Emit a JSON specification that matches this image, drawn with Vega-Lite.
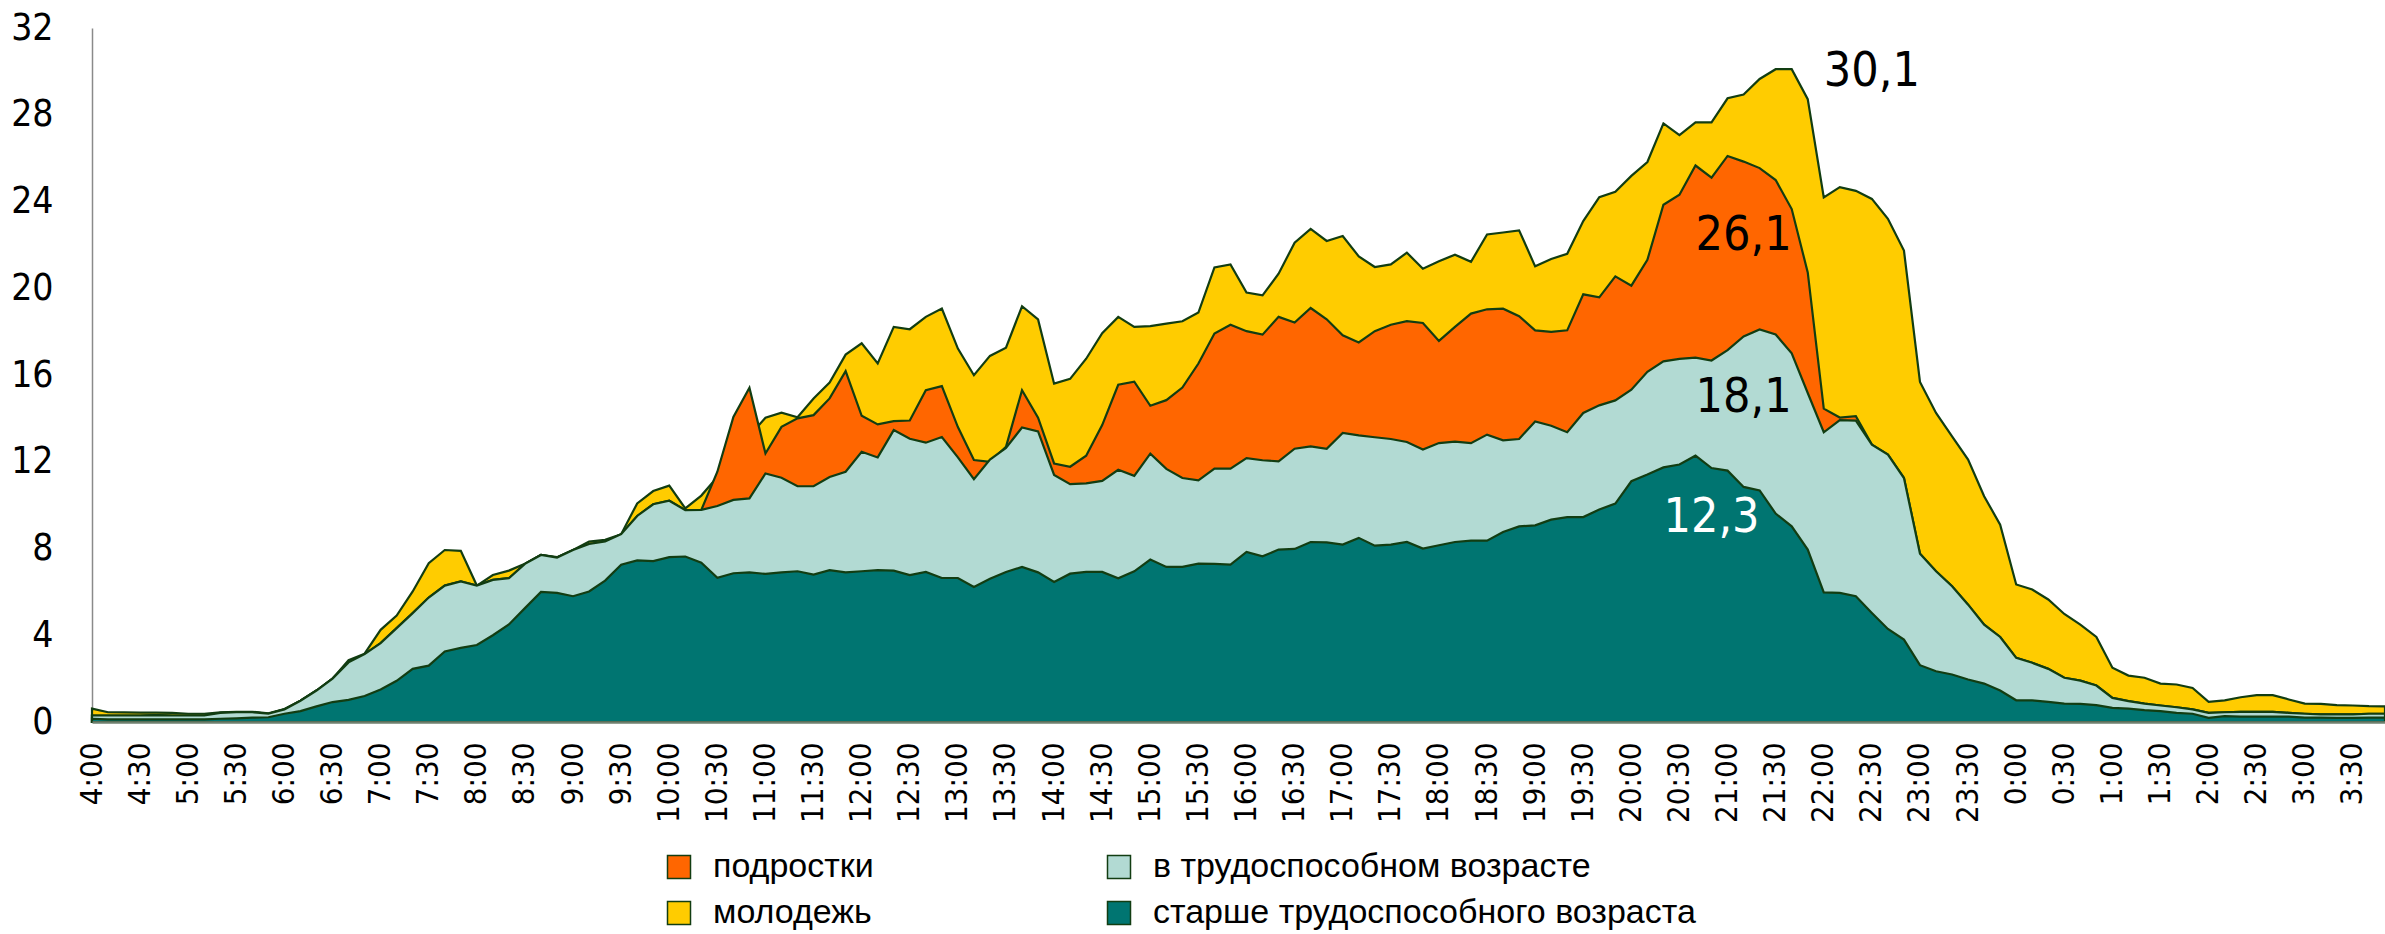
{
"$schema": "https://vega.github.io/schema/vega-lite/v6.json",
"width": 2293, "height": 694,
"autosize": {"type": "none"},
"padding": {"left": 92, "top": 28, "right": 0, "bottom": 212},
"background": "white",
"config": {"view": {"stroke": null}},
"data": {"values": [
{"t":"4:00","y":0.62,"o":0.3,"l":0.3,"d":0.15},
{"t":"4:10","y":0.45,"o":0.3,"l":0.3,"d":0.12},
{"t":"4:20","y":0.44,"o":0.3,"l":0.3,"d":0.12},
{"t":"4:30","y":0.43,"o":0.3,"l":0.3,"d":0.12},
{"t":"4:40","y":0.43,"o":0.32,"l":0.32,"d":0.12},
{"t":"4:50","y":0.42,"o":0.3,"l":0.3,"d":0.12},
{"t":"5:00","y":0.38,"o":0.3,"l":0.3,"d":0.12},
{"t":"5:10","y":0.38,"o":0.3,"l":0.3,"d":0.12},
{"t":"5:20","y":0.45,"o":0.42,"l":0.42,"d":0.15},
{"t":"5:30","y":0.47,"o":0.45,"l":0.45,"d":0.17},
{"t":"5:40","y":0.47,"o":0.45,"l":0.45,"d":0.2},
{"t":"5:50","y":0.4,"o":0.38,"l":0.38,"d":0.22},
{"t":"6:00","y":0.6,"o":0.58,"l":0.58,"d":0.38},
{"t":"6:10","y":0.98,"o":0.98,"l":0.98,"d":0.5},
{"t":"6:20","y":1.45,"o":1.45,"l":1.45,"d":0.72},
{"t":"6:30","y":2.0,"o":2.0,"l":2.0,"d":0.92},
{"t":"6:40","y":2.85,"o":2.75,"l":2.75,"d":1.02},
{"t":"6:50","y":3.15,"o":3.13,"l":3.13,"d":1.2},
{"t":"7:00","y":4.25,"o":3.64,"l":3.64,"d":1.5},
{"t":"7:10","y":4.91,"o":4.33,"l":4.33,"d":1.9},
{"t":"7:20","y":6.02,"o":5.02,"l":5.02,"d":2.45},
{"t":"7:30","y":7.32,"o":5.74,"l":5.74,"d":2.6},
{"t":"7:40","y":7.93,"o":6.29,"l":6.29,"d":3.25},
{"t":"7:50","y":7.89,"o":6.48,"l":6.48,"d":3.42},
{"t":"8:00","y":6.29,"o":6.29,"l":6.29,"d":3.55},
{"t":"8:10","y":6.78,"o":6.55,"l":6.55,"d":4.0},
{"t":"8:20","y":6.98,"o":6.63,"l":6.63,"d":4.5},
{"t":"8:30","y":7.3,"o":7.29,"l":7.29,"d":5.25},
{"t":"8:40","y":7.7,"o":7.7,"l":7.7,"d":6.0},
{"t":"8:50","y":7.6,"o":7.58,"l":7.58,"d":5.95},
{"t":"9:00","y":7.93,"o":7.93,"l":7.93,"d":5.8},
{"t":"9:10","y":8.32,"o":8.21,"l":8.21,"d":6.02},
{"t":"9:20","y":8.4,"o":8.32,"l":8.32,"d":6.52},
{"t":"9:30","y":8.66,"o":8.66,"l":8.66,"d":7.25},
{"t":"9:40","y":10.08,"o":9.5,"l":9.5,"d":7.45},
{"t":"9:50","y":10.65,"o":10.04,"l":10.04,"d":7.42},
{"t":"10:00","y":10.9,"o":10.2,"l":10.2,"d":7.6},
{"t":"10:10","y":9.85,"o":9.77,"l":9.77,"d":7.63},
{"t":"10:20","y":10.44,"o":9.78,"l":9.78,"d":7.35},
{"t":"10:30","y":11.3,"o":11.54,"l":9.96,"d":6.65},
{"t":"10:40","y":12.5,"o":14.07,"l":10.24,"d":6.86},
{"t":"10:50","y":13.2,"o":15.41,"l":10.31,"d":6.9},
{"t":"11:00","y":14.03,"o":12.38,"l":11.46,"d":6.83},
{"t":"11:10","y":14.26,"o":13.61,"l":11.26,"d":6.9},
{"t":"11:20","y":14.05,"o":14.0,"l":10.87,"d":6.95},
{"t":"11:30","y":14.92,"o":14.15,"l":10.87,"d":6.8},
{"t":"11:40","y":15.65,"o":14.92,"l":11.3,"d":7.0},
{"t":"11:50","y":16.94,"o":16.18,"l":11.54,"d":6.9},
{"t":"12:00","y":17.46,"o":14.12,"l":12.46,"d":6.95},
{"t":"12:10","y":16.53,"o":13.72,"l":12.2,"d":7.0},
{"t":"12:20","y":18.22,"o":13.87,"l":13.46,"d":6.98},
{"t":"12:30","y":18.11,"o":13.9,"l":13.06,"d":6.77},
{"t":"12:40","y":18.68,"o":15.3,"l":12.88,"d":6.92},
{"t":"12:50","y":19.06,"o":15.49,"l":13.14,"d":6.64},
{"t":"13:00","y":17.22,"o":13.6,"l":12.2,"d":6.64},
{"t":"13:10","y":15.99,"o":12.08,"l":11.2,"d":6.23},
{"t":"13:20","y":16.88,"o":12.0,"l":12.1,"d":6.6},
{"t":"13:30","y":17.26,"o":12.69,"l":12.64,"d":6.92},
{"t":"13:40","y":19.17,"o":15.3,"l":13.58,"d":7.15},
{"t":"13:50","y":18.56,"o":14.03,"l":13.4,"d":6.9},
{"t":"14:00","y":15.6,"o":11.92,"l":11.39,"d":6.46},
{"t":"14:10","y":15.82,"o":11.77,"l":10.97,"d":6.84},
{"t":"14:20","y":16.75,"o":12.28,"l":11.0,"d":6.92},
{"t":"14:30","y":17.93,"o":13.69,"l":11.12,"d":6.92},
{"t":"14:40","y":18.68,"o":15.55,"l":11.63,"d":6.63},
{"t":"14:50","y":18.22,"o":15.69,"l":11.35,"d":6.95},
{"t":"15:00","y":18.25,"o":14.58,"l":12.37,"d":7.49},
{"t":"15:10","y":18.37,"o":14.84,"l":11.67,"d":7.15},
{"t":"15:20","y":18.48,"o":15.42,"l":11.25,"d":7.15},
{"t":"15:30","y":18.88,"o":16.53,"l":11.14,"d":7.3},
{"t":"15:40","y":20.96,"o":17.91,"l":11.68,"d":7.29},
{"t":"15:50","y":21.1,"o":18.32,"l":11.68,"d":7.26},
{"t":"16:00","y":19.8,"o":18.02,"l":12.17,"d":7.84},
{"t":"16:10","y":19.67,"o":17.86,"l":12.07,"d":7.64},
{"t":"16:20","y":20.67,"o":18.68,"l":12.02,"d":7.95},
{"t":"16:30","y":22.1,"o":18.42,"l":12.6,"d":7.98},
{"t":"16:40","y":22.74,"o":19.09,"l":12.71,"d":8.3},
{"t":"16:50","y":22.18,"o":18.57,"l":12.6,"d":8.28},
{"t":"17:00","y":22.41,"o":17.83,"l":13.33,"d":8.18},
{"t":"17:10","y":21.47,"o":17.5,"l":13.22,"d":8.49},
{"t":"17:20","y":20.98,"o":18.02,"l":13.13,"d":8.13},
{"t":"17:30","y":21.1,"o":18.32,"l":13.05,"d":8.18},
{"t":"17:40","y":21.64,"o":18.48,"l":12.91,"d":8.3},
{"t":"17:50","y":20.9,"o":18.4,"l":12.56,"d":8.0},
{"t":"18:00","y":21.24,"o":17.57,"l":12.86,"d":8.15},
{"t":"18:10","y":21.55,"o":18.22,"l":12.93,"d":8.3},
{"t":"18:20","y":21.22,"o":18.83,"l":12.86,"d":8.36},
{"t":"18:30","y":22.48,"o":19.03,"l":13.25,"d":8.36},
{"t":"18:40","y":22.57,"o":19.06,"l":12.99,"d":8.76},
{"t":"18:50","y":22.67,"o":18.71,"l":13.05,"d":9.02},
{"t":"19:00","y":21.01,"o":18.06,"l":13.86,"d":9.07},
{"t":"19:10","y":21.35,"o":17.99,"l":13.66,"d":9.33},
{"t":"19:20","y":21.59,"o":18.06,"l":13.36,"d":9.45},
{"t":"19:30","y":23.1,"o":19.72,"l":14.25,"d":9.45},
{"t":"19:40","y":24.2,"o":19.58,"l":14.6,"d":9.8},
{"t":"19:50","y":24.45,"o":20.55,"l":14.83,"d":10.07},
{"t":"20:00","y":25.18,"o":20.12,"l":15.32,"d":11.1},
{"t":"20:10","y":25.82,"o":21.31,"l":16.15,"d":11.41},
{"t":"20:20","y":27.6,"o":23.85,"l":16.63,"d":11.74},
{"t":"20:30","y":27.06,"o":24.31,"l":16.74,"d":11.87},
{"t":"20:40","y":27.65,"o":25.66,"l":16.8,"d":12.28},
{"t":"20:50","y":27.65,"o":25.1,"l":16.67,"d":11.71},
{"t":"21:00","y":28.76,"o":26.1,"l":17.15,"d":11.59},
{"t":"21:10","y":28.93,"o":25.84,"l":17.78,"d":10.84},
{"t":"21:20","y":29.65,"o":25.54,"l":18.1,"d":10.68},
{"t":"21:30","y":30.1,"o":24.99,"l":17.87,"d":9.61},
{"t":"21:40","y":30.1,"o":23.65,"l":17.0,"d":9.02},
{"t":"21:50","y":28.72,"o":20.73,"l":15.17,"d":7.95},
{"t":"22:00","y":24.19,"o":14.45,"l":13.36,"d":5.98},
{"t":"22:10","y":24.66,"o":14.04,"l":13.92,"d":5.95},
{"t":"22:20","y":24.49,"o":14.1,"l":13.9,"d":5.8},
{"t":"22:30","y":24.12,"o":12.79,"l":12.79,"d":5.03},
{"t":"22:40","y":23.2,"o":12.33,"l":12.33,"d":4.29},
{"t":"22:50","y":21.74,"o":11.25,"l":11.25,"d":3.8},
{"t":"23:00","y":15.68,"o":7.76,"l":7.76,"d":2.62},
{"t":"23:10","y":14.25,"o":6.95,"l":6.95,"d":2.34},
{"t":"23:20","y":13.17,"o":6.26,"l":6.26,"d":2.19},
{"t":"23:30","y":12.1,"o":5.41,"l":5.41,"d":1.96},
{"t":"23:40","y":10.41,"o":4.49,"l":4.49,"d":1.77},
{"t":"23:50","y":9.1,"o":3.92,"l":3.92,"d":1.45},
{"t":"0:00","y":6.34,"o":2.96,"l":2.96,"d":1.0},
{"t":"0:10","y":6.11,"o":2.73,"l":2.73,"d":1.0},
{"t":"0:20","y":5.65,"o":2.45,"l":2.45,"d":0.93},
{"t":"0:30","y":4.98,"o":2.04,"l":2.04,"d":0.85},
{"t":"0:40","y":4.49,"o":1.91,"l":1.91,"d":0.84},
{"t":"0:50","y":3.92,"o":1.68,"l":1.68,"d":0.78},
{"t":"1:00","y":2.5,"o":1.11,"l":1.11,"d":0.65},
{"t":"1:10","y":2.14,"o":0.96,"l":0.96,"d":0.62},
{"t":"1:20","y":2.04,"o":0.85,"l":0.85,"d":0.55},
{"t":"1:30","y":1.77,"o":0.76,"l":0.76,"d":0.5},
{"t":"1:40","y":1.73,"o":0.68,"l":0.68,"d":0.42},
{"t":"1:50","y":1.57,"o":0.58,"l":0.58,"d":0.38},
{"t":"2:00","y":0.93,"o":0.42,"l":0.42,"d":0.19},
{"t":"2:10","y":1.0,"o":0.45,"l":0.45,"d":0.27},
{"t":"2:20","y":1.14,"o":0.47,"l":0.47,"d":0.25},
{"t":"2:30","y":1.24,"o":0.47,"l":0.47,"d":0.25},
{"t":"2:40","y":1.24,"o":0.47,"l":0.47,"d":0.25},
{"t":"2:50","y":1.04,"o":0.42,"l":0.42,"d":0.25},
{"t":"3:00","y":0.85,"o":0.38,"l":0.38,"d":0.2},
{"t":"3:10","y":0.84,"o":0.35,"l":0.35,"d":0.2},
{"t":"3:20","y":0.78,"o":0.35,"l":0.35,"d":0.19},
{"t":"3:30","y":0.76,"o":0.35,"l":0.35,"d":0.19},
{"t":"3:40","y":0.73,"o":0.38,"l":0.38,"d":0.2},
{"t":"3:50","y":0.72,"o":0.38,"l":0.38,"d":0.2}
]},
"encoding": {
  "x": {"field": "t", "type": "ordinal", "sort": null,
    "scale": {"type": "point", "padding": 0},
    "axis": {"title": null,
      "values": ["4:00","4:30","5:00","5:30","6:00","6:30","7:00","7:30","8:00","8:30","9:00","9:30","10:00","10:30","11:00","11:30","12:00","12:30","13:00","13:30","14:00","14:30","15:00","15:30","16:00","16:30","17:00","17:30","18:00","18:30","19:00","19:30","20:00","20:30","21:00","21:30","22:00","22:30","23:00","23:30","0:00","0:30","1:00","1:30","2:00","2:30","3:00","3:30"],
      "labelAngle": -90, "labelAlign": "right", "labelBaseline": "middle",
      "labelFont": "DejaVu Sans Condensed, Liberation Sans, sans-serif", "labelFontSize": 31, "labelColor": "#000000",
      "ticks": false, "tickSize": 0, "labelPadding": 20, "labelOverlap": false,
      "domainColor": "#6f806f", "domainWidth": 2.5, "grid": false, "zindex": 1}}
},
"layer": [
  {"mark": {"type": "area", "stroke": "#123d12", "strokeWidth": 2.2},
   "encoding": {
     "y": {"field": "y", "type": "quantitative",
       "scale": {"domain": [0, 32], "nice": false, "zero": true},
       "axis": {"title": null, "values": [0,4,8,12,16,20,24,28,32],
         "labelFont": "DejaVu Sans Condensed, Liberation Sans, sans-serif", "labelFontSize": 37, "labelColor": "#000000",
         "ticks": false, "tickSize": 0, "labelPadding": 39,
         "domainColor": "#8a8a8a", "domainWidth": 1.5, "grid": false}},
     "color": {"datum": "молодежь", "type": "nominal",
       "scale": {"domain": ["подростки", "молодежь", "в трудоспособном возрасте", "старше трудоспособного возраста"],
                 "range": ["#FF6600", "#FFCC00", "#B2DAD3", "#007571"]},
       "legend": {"title": null, "orient": "none", "legendX": 570, "legendY": 822,
         "columns": 2, "columnPadding": 228, "rowPadding": 12,
         "symbolType": "square", "symbolSize": 529, "symbolStrokeColor": "#355f35", "symbolStrokeWidth": 1.5,
         "labelFont": "Liberation Sans", "labelFontSize": 34, "labelColor": "#000000",
         "labelOffset": 17, "labelLimit": 0}}
   }},
  {"mark": {"type": "area", "stroke": "#123d12", "strokeWidth": 2.2},
   "encoding": {"y": {"field": "o", "type": "quantitative"}, "color": {"datum": "подростки", "type": "nominal"}}},
  {"mark": {"type": "area", "stroke": "#123d12", "strokeWidth": 2.2},
   "encoding": {"y": {"field": "l", "type": "quantitative"}, "color": {"datum": "в трудоспособном возрасте", "type": "nominal"}}},
  {"mark": {"type": "area", "stroke": "#123d12", "strokeWidth": 2.2},
   "encoding": {"y": {"field": "d", "type": "quantitative"}, "color": {"datum": "старше трудоспособного возраста", "type": "nominal"}}},
  {"data": {"values": [
     {"t": "22:30", "v": 29.95, "label": "30,1"},
     {"t": "21:10", "v": 22.4, "label": "26,1"},
     {"t": "21:10", "v": 14.93, "label": "18,1"}]},
   "mark": {"type": "text", "font": "DejaVu Sans Condensed, Liberation Sans, sans-serif", "fontSize": 48, "fill": "#000000", "align": "center", "baseline": "middle"},
   "encoding": {"y": {"field": "v", "type": "quantitative"}, "text": {"field": "label"}}},
  {"data": {"values": [
     {"t": "20:50", "v": 9.42, "label": "12,3"}]},
   "mark": {"type": "text", "font": "DejaVu Sans Condensed, Liberation Sans, sans-serif", "fontSize": 48, "fill": "#FFFFFF", "align": "center", "baseline": "middle"},
   "encoding": {"y": {"field": "v", "type": "quantitative"}, "text": {"field": "label"}}}
]
}
